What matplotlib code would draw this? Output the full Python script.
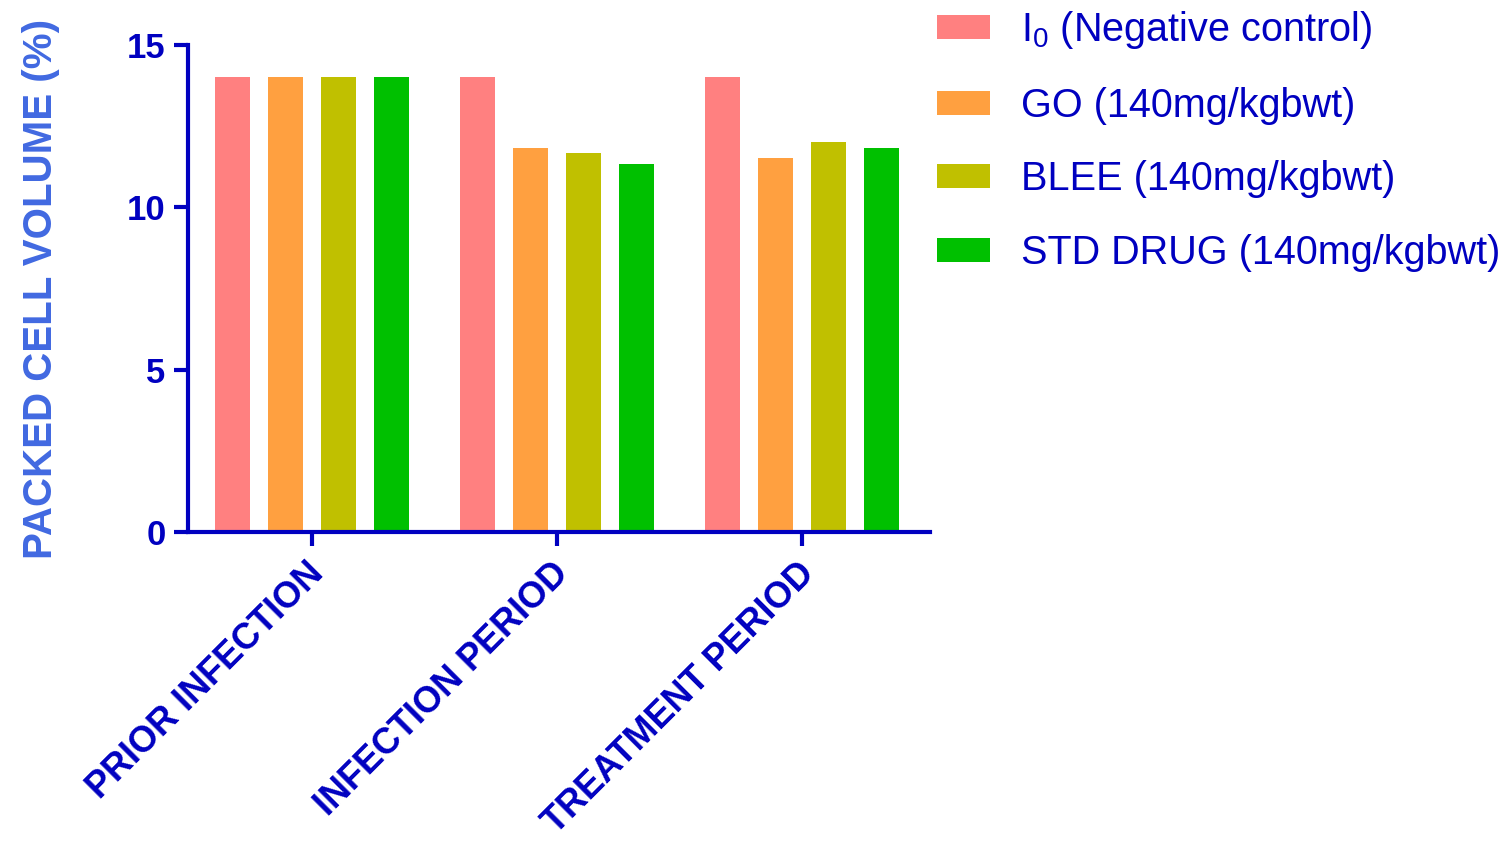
import numpy as np
import matplotlib
matplotlib.use("Agg")
import matplotlib.pyplot as plt
import matplotlib.transforms as mtransforms

plt.rcParams['font.family'] = ['Liberation Sans', 'DejaVu Sans']
plt.rcParams['mathtext.fontset'] = 'custom'
plt.rcParams['mathtext.rm'] = 'Liberation Sans'
plt.rcParams['mathtext.it'] = 'Liberation Sans'

periods = ["PRIOR INFECTION", "INFECTION PERIOD", "TREATMENT PERIOD"]
series = ["I$_0$ (Negative control)", "GO (140mg/kgbwt)",
          "BLEE (140mg/kgbwt)", "STD DRUG (140mg/kgbwt)"]
negative = [14.0, 14.0, 14.0]
go = [14.0, 11.83, 11.52]
blee = [14.0, 11.67, 12.0]
std_drug = [14.0, 11.33, 11.83]
colors = ["#FF8080", "#FFA040", "#C0C000", "#00C000"]

dark = "#0000C0"
fig = plt.figure(figsize=(15.12, 8.41), dpi=100)
ax = fig.add_axes([0.1243, 0.3674, 0.4907, 0.5791])

x = np.arange(len(periods))
width = 0.143
step = 0.216
for i, (vals, lab, c) in enumerate(zip([negative, go, blee, std_drug], series, colors)):
    ax.bar(x + (i - 1.5) * step, vals, width, color=c, label=lab)

ax.set_xlim(-0.506, 2.52)
ax.set_ylim(0, 15)
ax.set_yticks([0, 5, 10, 15])
ax.set_xticks(x)
ax.set_xticklabels([])
# rotated category labels, drawn as text so they can be nudged like the original
shift = mtransforms.ScaledTranslation(-6 / 100, -24 / 100, fig.dpi_scale_trans)
for xi, name in zip(x, periods):
    ax.text(xi, 0, name, transform=ax.get_xaxis_transform() + shift,
            rotation=45, ha='right', va='top', rotation_mode='anchor',
            fontsize=26, fontweight='bold', color=dark)
for lbl in ax.get_yticklabels():
    lbl.set_fontsize(25)
    lbl.set_fontweight('bold')
    lbl.set_color(dark)

for s in ['top', 'right']:
    ax.spines[s].set_visible(False)
for s in ['left', 'bottom']:
    ax.spines[s].set_linewidth(3)
    ax.spines[s].set_color(dark)
ax.tick_params(axis='both', length=10, width=3, color=dark, pad=6)

ax.set_ylabel("PACKED CELL VOLUME (%)", fontsize=29, fontweight='bold',
              color="#4169E1", labelpad=48)

leg = fig.legend(loc='upper left', bbox_to_anchor=(0.617, 0.994), frameon=False,
                 fontsize=28.5, handlelength=1.33, handleheight=0.56,
                 handletextpad=0.8, labelspacing=0.9, borderpad=0.1,
                 borderaxespad=0)
for t in leg.get_texts():
    t.set_color(dark)

fig.savefig("out.png", dpi=100)
